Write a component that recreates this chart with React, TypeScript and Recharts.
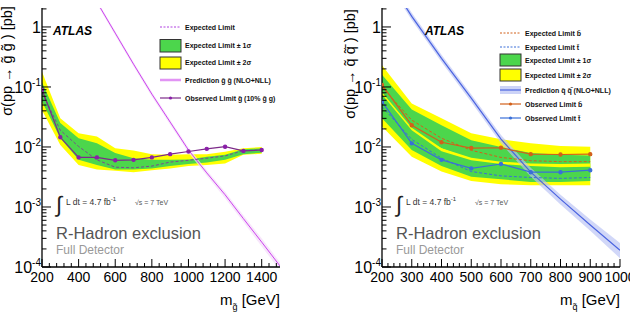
import React from 'react';
import { ComposedChart, Line, Area, XAxis, YAxis } from 'recharts';

const FONT = '"Liberation Sans", Arial, Helvetica, sans-serif';

// ---- left panel: gluino R-hadrons ----
const gluinoMass = [200, 300, 400, 500, 600, 700, 800, 900, 1000, 1100, 1200, 1300, 1400];
const gluinoObserved = [0.09, 0.0145, 0.0067, 0.0067, 0.006, 0.0061, 0.0067, 0.0076, 0.0084, 0.0093, 0.0101, 0.0086, 0.0089];
const gluinoExpected = [0.082, 0.019, 0.0102, 0.0061, 0.0046, 0.0045, 0.0048, 0.0056, 0.006, 0.0065, 0.0071, 0.0087, 0.0089];
const gluinoOneSigmaLow = [0.057, 0.014, 0.0061, 0.005, 0.0042, 0.0042, 0.0044, 0.0048, 0.0052, 0.0055, 0.0061, 0.0076, 0.008];
const gluinoOneSigmaHigh = [0.12, 0.025, 0.014, 0.0115, 0.0079, 0.0065, 0.0061, 0.0061, 0.0062, 0.0069, 0.0074, 0.0092, 0.0095];
const gluinoTwoSigmaLow = [0.041, 0.0108, 0.005, 0.0042, 0.004, 0.0038, 0.0041, 0.0044, 0.0048, 0.005, 0.0053, 0.0074, 0.0077];
const gluinoTwoSigmaHigh = [0.18, 0.03, 0.0169, 0.0149, 0.0095, 0.0087, 0.0076, 0.0074, 0.0076, 0.0076, 0.0083, 0.0095, 0.01];

const gluinoPredMass = [400, 500, 600, 700, 800, 900, 1000, 1100, 1200, 1300, 1400, 1500];
const gluinoPred = [10, 2.6, 0.79, 0.24, 0.076, 0.026, 0.0089, 0.0037, 0.0016, 0.00064, 0.00026, 0.000104];
const gluinoPredLow = [9.2, 2.4, 0.72, 0.22, 0.069, 0.0235, 0.008, 0.0033, 0.0014, 0.00056, 0.00022, 0.000088];
const gluinoPredHigh = [10.8, 2.8, 0.86, 0.26, 0.083, 0.0285, 0.0098, 0.0041, 0.0018, 0.00073, 0.0003, 0.00012];

// ---- right panel: stop / sbottom R-hadrons ----
const squarkMass = [200, 300, 400, 500, 600, 700, 800, 900];
const sbottomObserved = [0.108, 0.023, 0.012, 0.0096, 0.0097, 0.0076, 0.0075, 0.0076];
const stopObserved = [0.057, 0.0115, 0.0061, 0.0044, 0.0052, 0.0038, 0.0038, 0.0041];
const sbottomExpected = [0.1, 0.028, 0.014, 0.0088, 0.0067, 0.0059, 0.0057, 0.0057];
const stopExpected = [0.047, 0.0134, 0.0065, 0.0039, 0.0033, 0.0031, 0.003, 0.0031];
const sbottomOneSigmaLow = [0.06, 0.018, 0.0095, 0.0062, 0.0048, 0.0042, 0.004, 0.004];
const sbottomOneSigmaHigh = [0.16, 0.042, 0.023, 0.013, 0.01, 0.0079, 0.0074, 0.0072];
const sbottomTwoSigmaLow = [0.045, 0.013, 0.007, 0.0048, 0.0038, 0.0033, 0.0032, 0.0032];
const sbottomTwoSigmaHigh = [0.23, 0.053, 0.03, 0.017, 0.0135, 0.0115, 0.0104, 0.0101];
const stopOneSigmaLow = [0.03, 0.0089, 0.0048, 0.0032, 0.0029, 0.0026, 0.0026, 0.0027];
const stopOneSigmaHigh = [0.075, 0.019, 0.0085, 0.006, 0.0052, 0.0048, 0.0046, 0.0047];
const stopTwoSigmaLow = [0.022, 0.0069, 0.0039, 0.0027, 0.0024, 0.0023, 0.0023, 0.0023];
const stopTwoSigmaHigh = [0.082, 0.021, 0.0095, 0.0066, 0.0057, 0.0053, 0.0052, 0.0053];

const squarkPredMass = [200, 300, 400, 500, 600, 700, 800, 900, 1000];
const squarkPred = [9, 1.5, 0.3, 0.065, 0.0135, 0.0038, 0.00135, 0.0005, 0.00019];
const squarkPredLow = [7.9, 1.3, 0.26, 0.056, 0.0115, 0.0032, 0.0011, 0.0004, 0.00014];
const squarkPredHigh = [10.3, 1.72, 0.345, 0.075, 0.0158, 0.0045, 0.0016, 0.00062, 0.00025];

// ---- axes ----
const gluinoXLabels = [200, 400, 600, 800, 1000, 1200, 1400];
const squarkXLabels = [200, 300, 400, 500, 600, 700, 800, 900, 1000];
const Y_DOMAIN: [number, number] = [1e-4, 2.07];

const range = (from: number, to: number, step: number) => {
  const out: number[] = [];
  for (let v = from; v <= to + 1e-9; v += step) out.push(v);
  return out;
};
const gluinoXTicks = range(200, 1480, 40);
const squarkXTicks = range(200, 1000, 20);
const yTicks: number[] = [];
for (let e = -4; e <= 0; e++) {
  for (let d = 1; d <= 9; d++) {
    const v = d * Math.pow(10, e);
    if (v <= Y_DOMAIN[1]) yTicks.push(+v.toPrecision(3));
  }
}

type Row = { m: number; [k: string]: any };
const mergeRows = (series: { key: string; x: number[]; y: any[] }[]) => {
  const map = new Map<number, Row>();
  series.forEach((s) =>
    s.x.forEach((m, i) => {
      const row = map.get(m) ?? { m };
      row[s.key] = s.y[i];
      map.set(m, row);
    })
  );
  return [...map.values()].sort((a, b) => a.m - b.m);
};
const zip = (lo: number[], hi: number[]) => lo.map((v, i) => [v, hi[i]]);

const gluinoRows = mergeRows([
  { key: 'obs', x: gluinoMass, y: gluinoObserved },
  { key: 'exp', x: gluinoMass, y: gluinoExpected },
  { key: 'one', x: gluinoMass, y: zip(gluinoOneSigmaLow, gluinoOneSigmaHigh) },
  { key: 'two', x: gluinoMass, y: zip(gluinoTwoSigmaLow, gluinoTwoSigmaHigh) },
  { key: 'pred', x: gluinoPredMass, y: gluinoPred },
  { key: 'predBand', x: gluinoPredMass, y: zip(gluinoPredLow, gluinoPredHigh) },
]);

const squarkRows = mergeRows([
  { key: 'obsB', x: squarkMass, y: sbottomObserved },
  { key: 'obsT', x: squarkMass, y: stopObserved },
  { key: 'expB', x: squarkMass, y: sbottomExpected },
  { key: 'expT', x: squarkMass, y: stopExpected },
  { key: 'oneB', x: squarkMass, y: zip(sbottomOneSigmaLow, sbottomOneSigmaHigh) },
  { key: 'twoB', x: squarkMass, y: zip(sbottomTwoSigmaLow, sbottomTwoSigmaHigh) },
  { key: 'oneT', x: squarkMass, y: zip(stopOneSigmaLow, stopOneSigmaHigh) },
  { key: 'twoT', x: squarkMass, y: zip(stopTwoSigmaLow, stopTwoSigmaHigh) },
  { key: 'pred', x: squarkPredMass, y: squarkPred },
  { key: 'predBand', x: squarkPredMass, y: zip(squarkPredLow, squarkPredHigh) },
]);

const GREEN = '#4cd64c';
const YELLOW = '#ffff00';
const PURPLE = '#7d2a8a';
const PINK = '#cc44ee';
const ORANGE = '#d2601a';
const BLUE = '#3a6fd8';
const PRED_BLUE = '#4a63e0';
const AXIS_LINE = { stroke: '#000', strokeWidth: 1.3 };

const isDecade = (v: number) => Math.abs(Math.log10(v) - Math.round(Math.log10(v))) < 1e-6;

const XTick = (p: any) => {
  const { x, y, payload, labels, side } = p;
  const v = payload.value;
  const major = labels.includes(v);
  const len = major ? 8 : 4;
  const dir = side === 'top' ? 1 : -1;
  return (
    <g>
      <line x1={x} x2={x} y1={y} y2={y + dir * len} stroke="#000" strokeWidth={1} />
      {side === 'bottom' && major && (
        <text x={x} y={y + 15} textAnchor="middle" fontSize={14} fontFamily={FONT} fill="#000">
          {v}
        </text>
      )}
    </g>
  );
};

const YTick = (p: any) => {
  const { x, y, payload, side } = p;
  const v = payload.value;
  const major = isDecade(v);
  const len = major ? 9 : 4.5;
  const dir = side === 'left' ? 1 : -1;
  const e = Math.round(Math.log10(v));
  return (
    <g>
      <line x1={x} x2={x + dir * len} y1={y} y2={y} stroke="#000" strokeWidth={1} />
      {side === 'left' && major && (
        <text x={x - 1} y={y + 6} textAnchor="end" fontSize={16} fontFamily={FONT} fill="#000">
          {e === 0 ? '1' : '10'}
          {e !== 0 && (
            <tspan dy={-7} fontSize={10}>
              {e}
            </tspan>
          )}
        </text>
      )}
    </g>
  );
};

const renderAxes = (domain: [number, number], ticks: number[], labels: number[], yWidth: number) => [
  <XAxis
    key="xb"
    xAxisId="b"
    type="number"
    dataKey="m"
    domain={domain}
    allowDataOverflow
    ticks={ticks}
    interval={0}
    height={56}
    tickSize={0}
    tickMargin={0}
    tickLine={false}
    axisLine={AXIS_LINE}
    tick={(p: any) => <XTick {...p} labels={labels} side="bottom" />}
  />,
  <XAxis
    key="xt"
    xAxisId="t"
    orientation="top"
    type="number"
    dataKey="m"
    domain={domain}
    allowDataOverflow
    ticks={ticks}
    interval={0}
    height={0}
    tickSize={0}
    tickMargin={0}
    tickLine={false}
    axisLine={AXIS_LINE}
    tick={(p: any) => <XTick {...p} labels={labels} side="top" />}
  />,
  <YAxis
    key="yl"
    yAxisId="l"
    type="number"
    scale="log"
    domain={Y_DOMAIN}
    allowDataOverflow
    ticks={yTicks}
    interval={0}
    width={yWidth}
    tickSize={0}
    tickMargin={0}
    tickLine={false}
    axisLine={AXIS_LINE}
    tick={(p: any) => <YTick {...p} side="left" />}
  />,
  <YAxis
    key="yr"
    yAxisId="r"
    orientation="right"
    type="number"
    scale="log"
    domain={Y_DOMAIN}
    allowDataOverflow
    ticks={yTicks}
    interval={0}
    width={0}
    tickSize={0}
    tickMargin={0}
    tickLine={false}
    axisLine={AXIS_LINE}
    tick={(p: any) => <YTick {...p} side="right" />}
  />,
];

const band = (key: string, fill: string, opacity = 1) => (
  <Area
    key={key}
    xAxisId="b"
    yAxisId="l"
    type="linear"
    dataKey={key}
    fill={fill}
    fillOpacity={opacity}
    stroke="none"
    isAnimationActive={false}
    activeDot={false}
  />
);

const GluinoChart = () => (
  <ComposedChart width={315} height={323} data={gluinoRows} margin={{ top: 8, right: 35, bottom: 0, left: 0 }}>
    {renderAxes([200, 1500], gluinoXTicks, gluinoXLabels, 42)}
    {band('two', YELLOW)}
    {band('one', GREEN)}
    {band('predBand', '#f4dcf9', 0.7)}
    <Line xAxisId="b" yAxisId="l" dataKey="pred" stroke={PINK} strokeWidth={1} dot={false} activeDot={false} isAnimationActive={false} />
    <Line xAxisId="b" yAxisId="l" dataKey="exp" stroke="#7a4a90" strokeWidth={1} strokeDasharray="3 2" dot={false} activeDot={false} isAnimationActive={false} />
    <Line
      xAxisId="b"
      yAxisId="l"
      dataKey="obs"
      stroke={PURPLE}
      strokeWidth={1.2}
      dot={{ r: 1.6, fill: '#8a1fa8', stroke: '#8a1fa8' }}
      activeDot={false}
      isAnimationActive={false}
    />
  </ComposedChart>
);

const SquarkChart = () => (
  <ComposedChart width={315} height={323} data={squarkRows} margin={{ top: 8, right: 10, bottom: 0, left: 0 }}>
    {renderAxes([200, 1000], squarkXTicks, squarkXLabels, 67)}
    {band('twoB', YELLOW)}
    {band('oneB', GREEN)}
    {band('twoT', YELLOW)}
    {band('oneT', GREEN)}
    {band('predBand', '#b8c2f4', 0.65)}
    <Line xAxisId="b" yAxisId="l" dataKey="pred" stroke={PRED_BLUE} strokeWidth={1.2} dot={false} activeDot={false} isAnimationActive={false} />
    <Line xAxisId="b" yAxisId="l" dataKey="expB" stroke={ORANGE} strokeWidth={1} strokeDasharray="3 2" dot={false} activeDot={false} isAnimationActive={false} />
    <Line xAxisId="b" yAxisId="l" dataKey="expT" stroke={BLUE} strokeWidth={1} strokeDasharray="3 2" dot={false} activeDot={false} isAnimationActive={false} />
    <Line xAxisId="b" yAxisId="l" dataKey="obsB" stroke={ORANGE} strokeWidth={1.2} dot={{ r: 1.6, fill: ORANGE, stroke: ORANGE }} activeDot={false} isAnimationActive={false} />
    <Line xAxisId="b" yAxisId="l" dataKey="obsT" stroke={BLUE} strokeWidth={1.2} dot={{ r: 1.6, fill: BLUE, stroke: BLUE }} activeDot={false} isAnimationActive={false} />
  </ComposedChart>
);

const LegendText = ({ x, y, children }: { x: number; y: number; children: React.ReactNode }) => (
  <text x={x} y={y} fontSize={7} fontWeight="bold" fontFamily={FONT} fill="#111">
    {children}
  </text>
);

const Annotations = ({ dx, ix }: { dx: number; ix: number }) => (
  <g>
    <text x={ix} y={212} fontSize={22} fontFamily={FONT} fill="#222">
      ∫
    </text>
    <text x={ix + 10} y={205} fontSize={8.5} fontFamily={FONT} fill="#333">
      L dt = 4.7 fb<tspan dy={-4} fontSize={6}>-1</tspan>
    </text>
    <text x={ix + 79} y={205} fontSize={7} fontFamily={FONT} fill="#555">
      √s = 7 TeV
    </text>
    <text x={dx} y={239} fontSize={16.5} fontFamily={FONT} fill="#555">
      R-Hadron exclusion
    </text>
    <text x={dx} y={254} fontSize={12} fontFamily={FONT} fill="#999">
      Full Detector
    </text>
  </g>
);

const Overlay = () => (
  <svg width={630} height={323} style={{ position: 'absolute', left: 0, top: 0, pointerEvents: 'none' }}>
    {/* left panel */}
    <text x={53} y={35} fontSize={12} fontWeight="bold" fontStyle="italic" fontFamily={FONT}>
      ATLAS
    </text>
    <line x1={160} x2={180} y1={27} y2={27} stroke="#b040e0" strokeDasharray="2 1.5" />
    <LegendText x={185} y={30}>Expected Limit</LegendText>
    <rect x={160} y={39.5} width={21} height={12.5} fill={GREEN} stroke="#333" />
    <LegendText x={185} y={48}>Expected Limit ± 1σ</LegendText>
    <rect x={160} y={57} width={21} height={12} fill={YELLOW} stroke="#333" />
    <LegendText x={185} y={65}>Expected Limit ± 2σ</LegendText>
    <rect x={160} y={78} width={21} height={4} fill="#f7e4fb" />
    <line x1={160} x2={181} y1={80} y2={80} stroke={PINK} />
    <LegendText x={185} y={83}>Prediction g̃ g̃ (NLO+NLL)</LegendText>
    <line x1={160} x2={181} y1={98} y2={98} stroke={PURPLE} strokeWidth={1.2} />
    <circle cx={170.5} cy={98} r={1.6} fill="#8a1fa8" />
    <LegendText x={185} y={101}>Observed Limit g̃ (10% g̃ g)</LegendText>
    <Annotations dx={56} ix={56} />
    <text transform="rotate(-90 12 61)" x={12} y={61} textAnchor="middle" fontSize={14.5} fontFamily={FONT}>
      σ(pp → g̃ g̃ ) [pb]
    </text>
    <text x={280} y={305} textAnchor="end" fontSize={15} fontFamily={FONT}>
      m<tspan dy={5} fontSize={9}>g̃</tspan>
      <tspan dy={-5} fontSize={15}> [GeV]</tspan>
    </text>

    {/* right panel */}
    <text x={425} y={35} fontSize={12} fontWeight="bold" fontStyle="italic" fontFamily={FONT}>
      ATLAS
    </text>
    <line x1={500} x2={520} y1={33} y2={33} stroke={ORANGE} strokeDasharray="2 1.5" />
    <LegendText x={525} y={36}>Expected Limit b̃</LegendText>
    <line x1={500} x2={520} y1={47} y2={47} stroke={BLUE} strokeDasharray="2 1.5" />
    <LegendText x={525} y={50}>Expected Limit t̃</LegendText>
    <rect x={500} y={54} width={21} height={12} fill={GREEN} stroke="#333" />
    <LegendText x={525} y={63}>Expected Limit ± 1σ</LegendText>
    <rect x={500} y={69} width={21} height={12} fill={YELLOW} stroke="#333" />
    <LegendText x={525} y={78}>Expected Limit ± 2σ</LegendText>
    <rect x={500} y={86} width={21} height={8} fill="#ccd3f7" />
    <line x1={500} x2={521} y1={90} y2={90} stroke={PRED_BLUE} strokeWidth={1.2} />
    <LegendText x={525} y={93}>Prediction q̃ q̃̄ (NLO+NLL)</LegendText>
    <line x1={500} x2={521} y1={104} y2={104} stroke={ORANGE} strokeWidth={1.2} />
    <circle cx={510.5} cy={104} r={1.6} fill={ORANGE} />
    <LegendText x={525} y={107}>Observed Limit b̃</LegendText>
    <line x1={500} x2={521} y1={118} y2={118} stroke={BLUE} strokeWidth={1.2} />
    <circle cx={510.5} cy={118} r={1.6} fill={BLUE} />
    <LegendText x={525} y={121}>Observed Limit t̃</LegendText>
    <Annotations dx={396} ix={396} />
    <text transform="rotate(-90 355 64)" x={355} y={64} textAnchor="middle" fontSize={14.5} fontFamily={FONT}>
      σ(pp → q̃ q̃̄ ) [pb]
    </text>
    <text x={620} y={305} textAnchor="end" fontSize={15} fontFamily={FONT}>
      m<tspan dy={5} fontSize={9}>q̃</tspan>
      <tspan dy={-5} fontSize={15}> [GeV]</tspan>
    </text>
  </svg>
);

export default function App() {
  return (
    <div style={{ position: 'absolute', left: 0, top: 0, width: 630, height: 323, background: '#fff', overflow: 'hidden' }}>
      <div style={{ position: 'absolute', left: 0, top: 0 }}>
        <GluinoChart />
      </div>
      <div style={{ position: 'absolute', left: 315, top: 0 }}>
        <SquarkChart />
      </div>
      <Overlay />
    </div>
  );
}
